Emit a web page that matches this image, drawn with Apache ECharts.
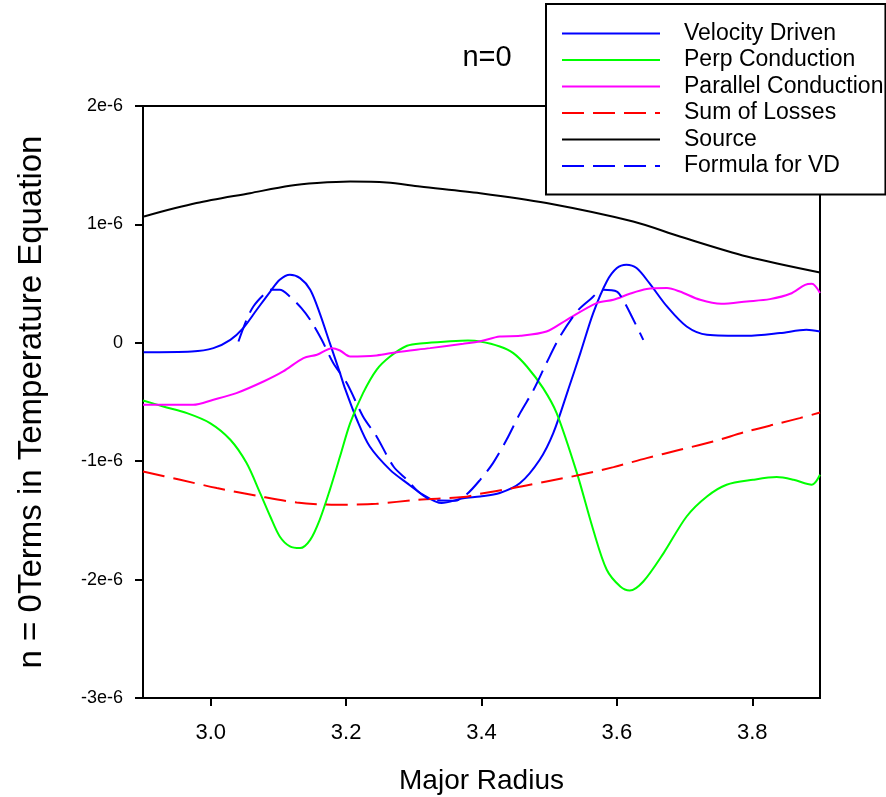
<!DOCTYPE html>
<html>
<head>
<meta charset="utf-8">
<script src="https://cdn.jsdelivr.net/npm/echarts@6/dist/echarts.min.js"></script>
<style>
html,body{margin:0;padding:0;background:#fff;}
#chart{width:886px;height:797px;}
</style>
</head>
<body>
<div id="chart"></div>
<script>
// values in units of 1e-6
const xTicks = [3.0, 3.2, 3.4, 3.6, 3.8];
const yTickLabels = {'-3':'-3e-6','-2':'-2e-6','-1':'-1e-6','0':'0','1':'1e-6','2':'2e-6'};

const velR = [2.901,2.972,3.004,3.029,3.048,3.068,3.088,3.102,3.117,3.132,3.147,3.161,3.176,3.191,3.198,3.216,3.235,3.265,3.290,3.314,3.341,3.373,3.398,3.427,3.457,3.486,3.506,3.528,3.546,3.565,3.585,3.600,3.614,3.629,3.648,3.674,3.703,3.733,3.792,3.841,3.880,3.900];
const velV = [-0.079,-0.073,-0.045,0.025,0.124,0.279,0.433,0.532,0.574,0.546,0.448,0.251,-0.003,-0.256,-0.380,-0.650,-0.876,-1.073,-1.185,-1.284,-1.354,-1.312,-1.298,-1.269,-1.185,-0.988,-0.763,-0.397,-0.087,0.251,0.518,0.631,0.659,0.631,0.504,0.307,0.138,0.068,0.059,0.082,0.110,0.095];

const perpR = [2.900,2.930,2.965,2.999,3.029,3.053,3.073,3.088,3.102,3.117,3.132,3.147,3.161,3.176,3.191,3.206,3.225,3.245,3.265,3.290,3.314,3.349,3.380,3.398,3.427,3.447,3.467,3.491,3.511,3.541,3.565,3.585,3.605,3.619,3.639,3.669,3.703,3.733,3.762,3.801,3.836,3.861,3.888,3.900];
const perpV = [-0.487,-0.538,-0.594,-0.678,-0.819,-1.016,-1.269,-1.467,-1.636,-1.720,-1.734,-1.664,-1.495,-1.242,-0.960,-0.678,-0.425,-0.228,-0.116,-0.025,-0.003,0.011,0.019,0.011,-0.031,-0.087,-0.200,-0.383,-0.594,-1.101,-1.579,-1.917,-2.058,-2.092,-2.016,-1.776,-1.467,-1.298,-1.199,-1.157,-1.134,-1.157,-1.199,-1.115];

const parR = [2.900,2.974,3.004,3.038,3.078,3.107,3.137,3.157,3.179,3.191,3.206,3.245,3.275,3.324,3.373,3.398,3.427,3.457,3.496,3.526,3.570,3.595,3.619,3.644,3.674,3.693,3.723,3.754,3.792,3.826,3.856,3.878,3.888,3.900];
const parV = [-0.524,-0.524,-0.481,-0.425,-0.327,-0.242,-0.129,-0.101,-0.045,-0.065,-0.116,-0.107,-0.079,-0.045,-0.008,0.013,0.053,0.059,0.095,0.194,0.335,0.363,0.414,0.454,0.462,0.433,0.363,0.329,0.349,0.369,0.414,0.490,0.498,0.420];

const lossR = [2.900,2.955,3.009,3.068,3.127,3.186,3.245,3.304,3.373,3.398,3.447,3.496,3.546,3.595,3.644,3.693,3.742,3.792,3.841,3.870,3.900];
const lossV = [-1.087,-1.157,-1.227,-1.292,-1.349,-1.368,-1.360,-1.326,-1.303,-1.275,-1.227,-1.171,-1.115,-1.050,-0.974,-0.904,-0.834,-0.749,-0.678,-0.636,-0.589];

const srcR = [2.9015,2.979,3.058,3.117,3.157,3.206,3.260,3.309,3.398,3.496,3.624,3.693,3.792,3.900];
const srcV = [1.067,1.180,1.264,1.326,1.349,1.362,1.354,1.320,1.264,1.180,1.024,0.898,0.729,0.594];

const fvdR = [3.041,3.053,3.063,3.078,3.088,3.102,3.117,3.134,3.147,3.164,3.181,3.201,3.225,3.245,3.270,3.290,3.309,3.329,3.361,3.379,3.398,3.417,3.437,3.457,3.477,3.496,3.516,3.541,3.560,3.580,3.600,3.609,3.622,3.639];
const fvdV = [0.011,0.194,0.307,0.405,0.448,0.448,0.391,0.293,0.194,0.025,-0.171,-0.340,-0.622,-0.791,-1.045,-1.157,-1.269,-1.332,-1.334,-1.275,-1.157,-1.016,-0.819,-0.594,-0.397,-0.171,0.053,0.264,0.363,0.448,0.433,0.363,0.222,0.025];

const zip = (a, b) => a.map((v, i) => [v, b[i]]);
const FONT = 'Liberation Sans, Arial, sans-serif';

function mk(name, r, v, color, dashed) {
  return {
    name: name, type: 'line', data: zip(r, v), symbol: 'none', smooth: 0.3,
    lineStyle: {color: color, width: 2, type: dashed ? [22, 9] : 'solid'},
    itemStyle: {color: color}
  };
}

const chart = echarts.init(document.getElementById('chart'), null, {renderer: 'canvas'});
chart.setOption({
  animation: false,
  backgroundColor: '#fff',
  title: {
    text: 'n=0', left: 482, top: 38, textAlign: 'center',
    textStyle: {fontFamily: FONT, fontSize: 29, fontWeight: 'normal', color: '#000'}
  },
  grid: {left: 143, top: 106, right: 66, bottom: 99, show: true, borderColor: '#000', borderWidth: 2,
         backgroundColor: 'transparent', containLabel: false, outerBoundsMode: 'none'},
  legend: {
    orient: 'vertical', left: 546, top: 4,
    padding: [18, 2, 17, 15],
    itemWidth: 98, itemHeight: 14, itemGap: 3.5,
    backgroundColor: '#fff', borderColor: '#000', borderWidth: 2,
    itemStyle: {opacity: 0},
    textStyle: {fontFamily: FONT, fontSize: 23, color: '#000', lineHeight: 22, padding: [0, 0, 0, 19]},
    data: ['Velocity Driven', 'Perp Conduction', 'Parallel Conduction', 'Sum of Losses', 'Source', 'Formula for VD']
  },
  xAxis: {
    type: 'value', min: 2.9, max: 3.9,
    name: 'Major Radius', nameLocation: 'middle', nameGap: 69,
    nameTextStyle: {fontFamily: FONT, fontSize: 28, color: '#000'},
    axisLine: {show: true, onZero: false, lineStyle: {color: '#000', width: 2}},
    axisTick: {show: true, length: 8, inside: false, lineStyle: {color: '#000', width: 2}, customValues: xTicks},
    axisLabel: {margin: 24, fontFamily: FONT, fontSize: 22, color: '#000', customValues: xTicks, formatter: v => v.toFixed(1)},
    splitLine: {show: false}
  },
  yAxis: {
    type: 'value', min: -3, max: 2, interval: 1,
    name: 'n = 0Terms in Temperature Equation', nameLocation: 'middle', nameGap: 95, nameRotate: 90,
    nameTextStyle: {fontFamily: FONT, fontSize: 33, color: '#000'},
    axisLine: {show: true, onZero: false, lineStyle: {color: '#000', width: 2}},
    axisTick: {show: true, length: 8, inside: false, lineStyle: {color: '#000', width: 2}},
    axisLabel: {margin: 20, fontFamily: FONT, fontSize: 18, color: '#000', formatter: v => yTickLabels[String(Math.round(v))]},
    splitLine: {show: false}
  },
  series: [
    mk('Velocity Driven', velR, velV, '#0000ff', false),
    mk('Perp Conduction', perpR, perpV, '#00ff00', false),
    mk('Parallel Conduction', parR, parV, '#ff00ff', false),
    mk('Sum of Losses', lossR, lossV, '#ff0000', true),
    mk('Source', srcR, srcV, '#000000', false),
    mk('Formula for VD', fvdR, fvdV, '#0000ff', true)
  ]
});
</script>
</body>
</html>
